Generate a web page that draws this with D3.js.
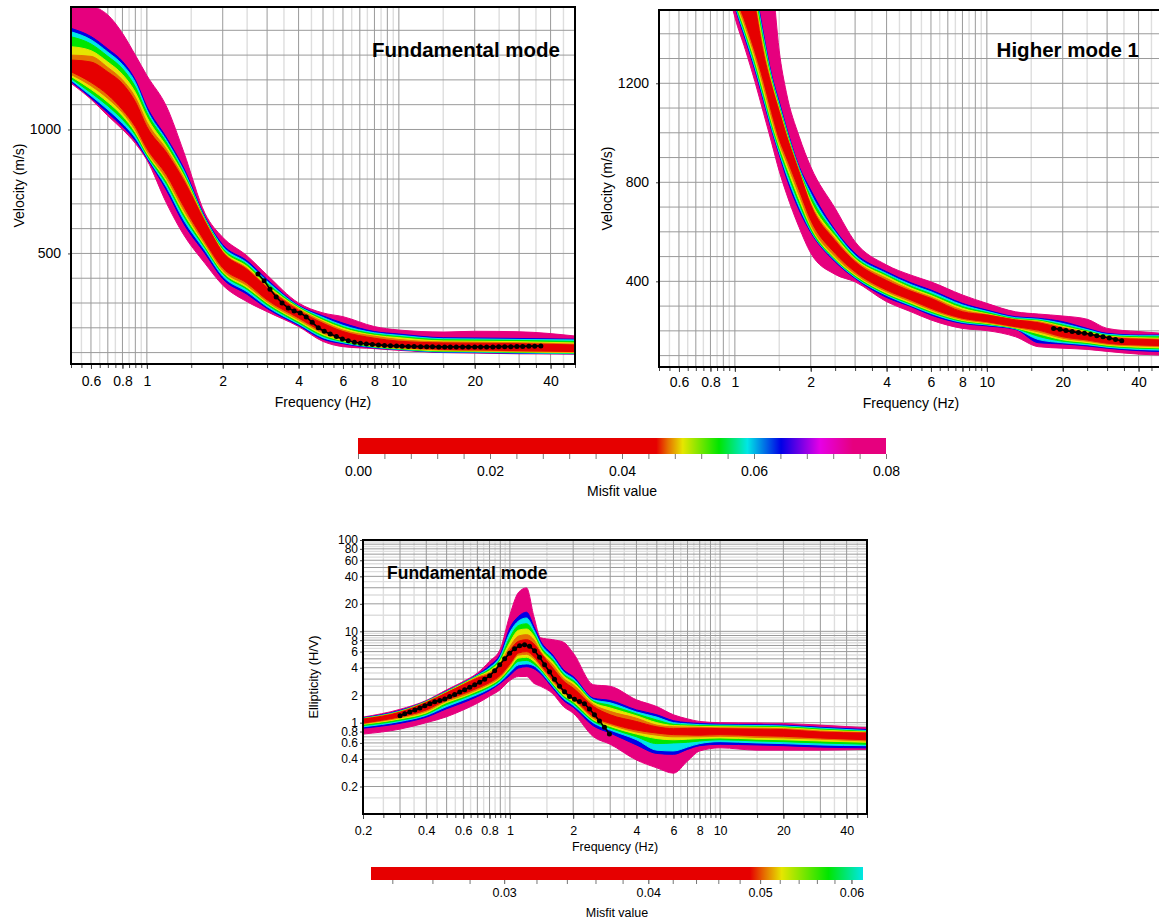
<!DOCTYPE html>
<html lang="en">
<head>
<meta charset="utf-8">
<title>Dispersion and ellipticity curves</title>
<script src="https://d3js.org/d3.v7.min.js"></script>
<style>
body{margin:0;background:#fff;overflow:hidden;}
svg text{font-family:"Liberation Sans",Arial,Helvetica,sans-serif;fill:#000;}
</style>
</head>
<body>
<svg id="chart" width="1159" height="921"></svg>
<script>

// ---- misfit colour palette (shared by the colour bars and the curve bands)
var paletteMisfit = [0, 0.0452, 0.047, 0.0492, 0.0547, 0.059, 0.0641, 0.070, 0.075, 0.08];
var paletteColors = ["#e60000", "#e60000", "#e67300", "#e6e600", "#00e600", "#00e6e6", "#0000e6", "#e600e6", "#e6007e", "#e6007e"];

// lower colour bar (log scale) only goes up to cyan
var cb2Misfit = [0.023, 0.049, 0.0505, 0.0522, 0.0573, 0.0614];
var cb2Colors = ["#e60000", "#e60000", "#e67300", "#e6e600", "#00e600", "#00e6e6"];

// one band per misfit level, worst (outer) first: pink, blue, cyan, green, yellow, orange, red
var bandMisfit = [0.078, 0.0641, 0.059, 0.0547, 0.0492, 0.047, 0.03];

// ---- top left: fundamental mode dispersion (velocity m/s)
var tlFreq = [0.5, 0.6, 0.7, 0.8, 0.9, 1.0, 1.2, 1.4, 1.7, 2, 2.5, 3, 4, 5, 6, 8, 10, 15, 20, 30, 50];
var tlUpper = [
  [1500, 1495, 1462, 1388, 1300, 1218, 1090, 910, 662, 565, 490, 413, 300, 260, 245, 205, 191, 183, 186, 184, 167],
  [1408, 1375, 1325, 1275, 1200, 1092, 965, 845, 648, 535, 470, 395, 290, 248, 219, 185, 175, 160, 159, 157, 154],
  [1394, 1362, 1312, 1262, 1190, 1080, 955, 835, 642, 528, 462, 388, 287, 242, 210, 180, 170, 156, 155, 153, 151],
  [1374, 1345, 1295, 1245, 1172, 1068, 945, 825, 638, 520, 455, 380, 284, 236, 204, 175, 165, 152, 151, 149, 145],
  [1334, 1318, 1272, 1222, 1150, 1050, 930, 815, 634, 513, 447, 372, 280, 230, 198, 170, 160, 147, 146, 144, 139],
  [1300, 1295, 1250, 1200, 1130, 1030, 918, 805, 632, 508, 440, 366, 276, 225, 191, 166, 153, 143, 142, 140, 134],
  [1280, 1272, 1232, 1185, 1112, 1011, 905, 795, 628, 505, 435, 362, 270, 218, 185, 158, 146, 139, 138, 136, 131]
];
var tlLower = [
  [1186, 1122, 1055, 1000, 944, 877, 700, 575, 460, 372, 305, 265, 205, 145, 124, 116, 109, 100, 98, 95, 94],
  [1193, 1128, 1067, 1012, 955, 884, 752, 620, 500, 398, 335, 278, 210, 154, 136, 119, 112, 101, 100, 97, 95],
  [1199, 1136, 1080, 1025, 966, 890, 765, 635, 512, 408, 345, 285, 215, 160, 140, 121, 113, 103, 102, 99, 96],
  [1206, 1148, 1095, 1040, 978, 896, 778, 650, 522, 418, 355, 293, 220, 166, 144, 123, 115, 105, 104, 101, 98],
  [1214, 1162, 1110, 1055, 988, 904, 790, 662, 530, 425, 362, 300, 226, 172, 148, 125, 117, 107, 106, 103, 100],
  [1222, 1176, 1125, 1068, 998, 912, 800, 675, 538, 432, 370, 305, 232, 178, 152, 127, 119, 110, 108, 105, 102],
  [1233, 1190, 1140, 1080, 1011, 924, 815, 690, 548, 442, 380, 313, 240, 185, 158, 130, 122, 113, 111, 108, 104]
];
var tlDotFreq = [2.76, 2.92, 3.08, 3.26, 3.44, 3.64, 3.84, 4.06, 4.29, 4.53, 4.79, 5.06, 5.34, 5.65, 5.97, 6.30,
  6.66, 7.04, 7.43, 7.85, 8.30, 8.77, 9.26, 9.79, 10.3, 10.9, 11.5, 12.2, 12.9, 13.6, 14.4, 15.2,
  16.0, 16.9, 17.9, 18.9, 20.0, 21.1, 22.3, 23.6, 24.9, 26.3, 27.8, 29.4, 31.0, 32.8, 34.6, 36.6];
var tlDotVel = [417, 390, 356, 324, 300, 280, 268, 260, 244, 222, 200, 186, 175, 165, 155, 148,
  142, 138, 135, 133, 131, 129, 128, 127, 126, 125, 125, 124, 124, 124, 123, 123,
  123, 123, 123, 123, 123, 123, 123, 123, 124, 124, 124, 125, 125, 126, 126, 127];

// ---- top right: higher mode 1 dispersion
var trFreq = [0.95, 1.0, 1.1, 1.2, 1.3, 1.4, 1.5, 1.6, 1.8, 2.0, 2.5, 3, 4, 5, 6, 8, 10, 13, 16, 20, 25, 30, 40, 50];
var trUpper = [
  [2000, 2000, 2000, 2000, 1900, 1650, 1331, 1164, 985, 863, 695, 560, 466, 425, 398, 345, 311, 277, 268, 260, 247, 210, 197, 190],
  [2000, 2000, 1815, 1598, 1398, 1233, 1125, 1023, 863, 769, 607, 513, 439, 394, 365, 311, 284, 257, 251, 237, 210, 190, 183, 183],
  [2000, 1990, 1800, 1585, 1385, 1224, 1115, 1015, 856, 755, 600, 505, 432, 387, 358, 305, 279, 253, 247, 230, 205, 186, 180, 180],
  [2000, 1980, 1785, 1570, 1370, 1215, 1106, 1008, 850, 742, 592, 498, 426, 380, 350, 298, 274, 249, 243, 224, 200, 182, 176, 176],
  [2000, 1960, 1765, 1550, 1350, 1205, 1098, 1000, 846, 725, 582, 491, 420, 373, 343, 291, 269, 246, 240, 218, 196, 179, 172, 170],
  [2000, 1940, 1748, 1532, 1334, 1196, 1091, 995, 843, 715, 572, 485, 412, 366, 337, 284, 266, 245, 237, 214, 193, 176, 169, 166],
  [2000, 1900, 1732, 1517, 1318, 1188, 1085, 990, 841, 708, 564, 479, 403, 360, 331, 277, 264, 244, 233, 210, 190, 174, 166, 163]
];
var trLower = [
  [1560, 1467, 1336, 1208, 1079, 959, 845, 756, 617, 514, 428, 398, 318, 277, 244, 210, 201, 176, 136, 130, 125, 117, 106, 102],
  [1600, 1510, 1377, 1254, 1127, 1009, 911, 820, 687, 598, 479, 412, 335, 298, 264, 230, 220, 206, 152, 147, 139, 130, 120, 116],
  [1620, 1520, 1388, 1265, 1138, 1018, 920, 834, 700, 604, 484, 416, 343, 302, 270, 234, 224, 208, 165, 152, 144, 134, 125, 122],
  [1640, 1533, 1400, 1278, 1150, 1030, 932, 850, 714, 610, 488, 420, 347, 307, 275, 238, 227, 210, 178, 158, 149, 138, 130, 127],
  [1660, 1546, 1412, 1292, 1165, 1043, 945, 866, 730, 620, 492, 425, 352, 312, 280, 242, 230, 212, 188, 164, 153, 142, 134, 131],
  [1680, 1560, 1428, 1310, 1185, 1060, 958, 884, 748, 630, 500, 430, 358, 318, 285, 246, 233, 214, 196, 170, 158, 146, 139, 136],
  [1700, 1575, 1446, 1329, 1208, 1082, 975, 902, 768, 648, 513, 439, 365, 325, 291, 251, 237, 217, 203, 176, 163, 150, 143, 140]
];
var trDotFreq = [18.4, 19.5, 20.6, 21.8, 23.1, 24.4, 25.8, 27.3, 28.9, 30.6, 32.4, 34.3];
var trDotVel = [210, 206, 201, 197, 193, 190, 186, 180, 176, 171, 165, 160];

// ---- bottom: fundamental mode ellipticity (H/V)
var elFreq = [0.2, 0.3, 0.4, 0.5, 0.6, 0.7, 0.8, 0.9, 1.0, 1.1, 1.2, 1.3, 1.4, 1.6, 1.8, 2.0, 2.5, 3, 4, 5, 6, 7, 8, 10, 15, 20, 30, 50];
var elUpper = [
  [1.15, 1.40, 1.75, 2.29, 2.82, 3.49, 4.7, 6.4, 15.2, 26.8, 29.9, 14.6, 8.5, 8.1, 7.6, 5.8, 2.6, 2.5, 1.78, 1.50, 1.22, 1.10, 1.03, 1.0, 0.99, 0.98, 0.94, 0.88],
  [1.13, 1.36, 1.72, 2.22, 2.74, 3.35, 4.2, 5.6, 10.9, 14.6, 16.2, 11.3, 7.8, 5.5, 3.8, 3.2, 1.85, 1.75, 1.38, 1.22, 1.05, 1.0, 0.98, 0.96, 0.95, 0.94, 0.89, 0.84],
  [1.12, 1.34, 1.71, 2.20, 2.72, 3.30, 4.0, 5.3, 9.7, 13.0, 14.0, 10.4, 7.3, 5.2, 3.6, 3.05, 1.78, 1.65, 1.31, 1.15, 1.0, 0.97, 0.95, 0.94, 0.93, 0.92, 0.87, 0.82],
  [1.11, 1.33, 1.70, 2.18, 2.70, 3.25, 3.85, 5.0, 8.6, 11.6, 12.1, 9.6, 6.8, 4.9, 3.4, 2.9, 1.72, 1.55, 1.25, 1.07, 0.96, 0.94, 0.93, 0.92, 0.91, 0.90, 0.85, 0.80],
  [1.105, 1.32, 1.69, 2.16, 2.67, 3.20, 3.7, 4.75, 7.6, 10.3, 10.6, 8.9, 6.4, 4.6, 3.25, 2.75, 1.66, 1.45, 1.19, 1.0, 0.93, 0.92, 0.91, 0.90, 0.89, 0.88, 0.83, 0.79],
  [1.10, 1.31, 1.68, 2.14, 2.64, 3.15, 3.55, 4.5, 6.8, 8.9, 9.2, 8.1, 6.0, 4.3, 3.05, 2.6, 1.58, 1.33, 1.12, 0.94, 0.90, 0.895, 0.89, 0.88, 0.87, 0.86, 0.81, 0.78],
  [1.095, 1.30, 1.66, 2.12, 2.60, 3.07, 3.4, 4.3, 6.2, 7.8, 8.1, 7.3, 5.8, 3.96, 2.85, 2.39, 1.50, 1.22, 1.03, 0.90, 0.86, 0.865, 0.87, 0.86, 0.85, 0.84, 0.79, 0.77]
];
var elLower = [
  [0.75, 0.85, 1.0, 1.16, 1.38, 1.63, 1.95, 2.3, 2.9, 3.2, 3.2, 2.7, 2.5, 2.07, 1.50, 1.27, 0.70, 0.58, 0.39, 0.32, 0.28, 0.38, 0.49, 0.53, 0.50, 0.50, 0.50, 0.51],
  [0.87, 0.985, 1.15, 1.42, 1.66, 1.93, 2.25, 2.7, 3.3, 3.96, 4.1, 3.9, 3.43, 2.39, 1.75, 1.48, 0.92, 0.77, 0.57, 0.46, 0.45, 0.51, 0.56, 0.58, 0.57, 0.56, 0.54, 0.53],
  [0.90, 1.03, 1.20, 1.50, 1.76, 2.03, 2.35, 2.8, 3.55, 4.3, 4.4, 4.2, 3.6, 2.5, 1.84, 1.55, 0.99, 0.83, 0.65, 0.50, 0.49, 0.54, 0.59, 0.62, 0.60, 0.59, 0.57, 0.56],
  [0.93, 1.06, 1.24, 1.58, 1.85, 2.13, 2.45, 2.92, 3.8, 4.7, 4.8, 4.4, 3.8, 2.6, 1.92, 1.62, 1.03, 0.87, 0.70, 0.59, 0.60, 0.61, 0.63, 0.65, 0.63, 0.62, 0.60, 0.58],
  [0.96, 1.10, 1.28, 1.66, 1.92, 2.22, 2.55, 3.05, 4.0, 5.1, 5.2, 4.7, 3.95, 2.7, 2.0, 1.70, 1.07, 0.91, 0.75, 0.67, 0.65, 0.66, 0.67, 0.68, 0.66, 0.65, 0.63, 0.61],
  [0.975, 1.13, 1.33, 1.72, 1.98, 2.30, 2.65, 3.15, 4.2, 5.5, 5.6, 5.0, 4.1, 2.8, 2.1, 1.78, 1.11, 0.95, 0.79, 0.73, 0.70, 0.70, 0.70, 0.71, 0.69, 0.68, 0.66, 0.63],
  [0.99, 1.16, 1.38, 1.78, 2.07, 2.39, 2.75, 3.3, 4.4, 5.8, 6.0, 5.3, 4.3, 2.95, 2.19, 1.85, 1.16, 0.985, 0.83, 0.77, 0.74, 0.735, 0.73, 0.74, 0.72, 0.71, 0.68, 0.65]
];
var elDotFreq = [0.300, 0.316, 0.334, 0.353, 0.373, 0.394, 0.416, 0.439, 0.464, 0.490, 0.517, 0.546, 0.577, 0.609,
  0.644, 0.680, 0.718, 0.758, 0.801, 0.846, 0.894, 0.944, 0.997, 1.053, 1.112, 1.174, 1.240, 1.310, 1.384,
  1.462, 1.544, 1.630, 1.722, 1.819, 1.921, 2.029, 2.143, 2.263, 2.390, 2.525, 2.667, 2.817, 2.975];
var elDotVal = [1.19, 1.25, 1.31, 1.38, 1.45, 1.53, 1.61, 1.69, 1.75, 1.82, 1.93, 2.04, 2.16, 2.29,
  2.44, 2.60, 2.77, 2.98, 3.26, 3.70, 4.31, 5.01, 5.76, 6.45, 6.96, 7.14, 6.88, 6.14, 5.21,
  4.31, 3.61, 2.98, 2.50, 2.18, 1.94, 1.80, 1.71, 1.61, 1.41, 1.22, 1.04, 0.89, 0.75];

// ---- tick labels
var topFreqLabels = [0.6, 0.8, 1, 2, 4, 6, 8, 10, 20, 40];
var tlVelLabels = [500, 1000];
var trVelLabels = [400, 800, 1200];
var elFreqLabels = [0.2, 0.4, 0.6, 0.8, 1, 2, 4, 6, 8, 10, 20, 40];
var elValLabels = [0.2, 0.4, 0.6, 0.8, 1, 2, 4, 6, 8, 10, 20, 40, 60, 80, 100];
var cb1Labels = [0, 0.02, 0.04, 0.06, 0.08];
var cb2Labels = [0.03, 0.04, 0.05, 0.06];


var svg = d3.select("#chart");
var defs = svg.append("defs");
var fontFam = '"Liberation Sans", Arial, Helvetica, sans-serif';

var misfitColor = d3.scaleLinear().domain(paletteMisfit).range(paletteColors).clamp(true);

// grid values of a log axis : d*10^k (darker) and (d+0.5)*10^k (lighter)
function logGrid(lo, hi) {
  var major = [], minor = [];
  for (var k = Math.floor(Math.log10(lo)) - 1; k <= Math.ceil(Math.log10(hi)); k++) {
    for (var d = 1; d <= 9; d++) {
      var v = d * Math.pow(10, k), h = (d + 0.5) * Math.pow(10, k);
      if (v >= lo * 0.999 && v <= hi * 1.001) major.push(v);
      if (h > lo && h < hi) minor.push(h);
    }
  }
  return {major: major, minor: minor};
}

function styleAxis(g, size) {
  g.attr("font-family", fontFam).attr("font-size", size);
  g.select(".domain").remove();
  g.selectAll(".tick line").attr("stroke", "#444");
}

function drawPanel(p) {
  var x = p.x, y = p.y;
  var xr = x.range(), yr = y.range();
  var left = xr[0], right = xr[1], bottom = yr[0], top = yr[1];

  defs.append("clipPath").attr("id", p.id)
    .append("rect").attr("x", left).attr("y", top).attr("width", right - left).attr("height", bottom - top);

  var g = svg.append("g");
  var grid = g.append("g").attr("clip-path", "url(#" + p.id + ")");

  var xg = logGrid(x.domain()[0], x.domain()[1]);
  var yMajor, yMinor;
  if (p.ylog) {
    var yg = logGrid(y.domain()[0], y.domain()[1]);
    yMajor = yg.major; yMinor = yg.minor;
  } else {
    yMajor = d3.range(100, y.domain()[1], 100);
    yMinor = [];
  }

  grid.selectAll(".xmin").data(xg.minor).enter().append("line")
    .attr("x1", d => x(d)).attr("x2", d => x(d)).attr("y1", top).attr("y2", bottom)
    .attr("stroke", "#dedede").attr("stroke-width", 1.4);
  grid.selectAll(".ymin").data(yMinor).enter().append("line")
    .attr("y1", d => y(d)).attr("y2", d => y(d)).attr("x1", left).attr("x2", right)
    .attr("stroke", "#dedede").attr("stroke-width", 1.4);
  grid.selectAll(".xmaj").data(xg.major).enter().append("line")
    .attr("x1", d => x(d)).attr("x2", d => x(d)).attr("y1", top).attr("y2", bottom)
    .attr("stroke", "#9a9a9a").attr("stroke-width", 1);
  grid.selectAll(".ymaj").data(yMajor).enter().append("line")
    .attr("y1", d => y(d)).attr("y2", d => y(d)).attr("x1", left).attr("x2", right)
    .attr("stroke", "#9a9a9a").attr("stroke-width", 1);

  // curve bands, worst misfit first so the best ones end on top
  var plot = g.append("g").attr("clip-path", "url(#" + p.id + ")");
  var area = d3.area()
    .x(d => x(d.f)).y0(d => y(d.lo)).y1(d => y(d.up))
    .curve(d3.curveMonotoneX);
  bandMisfit.forEach(function(m, i) {
    var rows = p.freq.map(function(f, j) { return {f: f, lo: p.lower[i][j], up: p.upper[i][j]}; });
    var col = misfitColor(m);
    plot.append("path").datum(rows)
      .attr("fill", col).attr("stroke", col).attr("stroke-width", 1)
      .attr("d", area);
  });

  // measured data
  var dots = p.dotF.map(function(f, i) { return {f: f, v: p.dotV[i]}; });
  plot.append("path").datum(dots)
    .attr("fill", "none").attr("stroke", "#000").attr("stroke-width", 1.6)
    .attr("d", d3.line().x(d => x(d.f)).y(d => y(d.v)));
  plot.selectAll(".dot").data(dots).enter().append("circle")
    .attr("cx", d => x(d.f)).attr("cy", d => y(d.v)).attr("r", 2.5).attr("fill", "#000");

  // axes
  var xt = g.append("g").attr("transform", "translate(0," + bottom + ")")
    .call(d3.axisBottom(x).tickValues(xg.major.concat(xg.minor)).tickSize(4).tickFormat(""));
  styleAxis(xt, p.fs);
  var xa = g.append("g").attr("transform", "translate(0," + bottom + ")")
    .call(d3.axisBottom(x).tickValues(p.xLabels).tickSize(5).tickPadding(p.xPad).tickFormat(d3.format("~g")));
  styleAxis(xa, p.fs);
  var ya = g.append("g").attr("transform", "translate(" + left + ",0)")
    .call(d3.axisLeft(y).tickValues(p.yLabels).tickSize(3).tickPadding(p.yPad).tickFormat(d3.format("~g")));
  styleAxis(ya, p.yfs || p.fs);

  g.append("text").attr("x", (left + right) / 2).attr("y", p.xTitleY)
    .attr("text-anchor", "middle").attr("font-size", p.fs).text("Frequency (Hz)");
  g.append("text").attr("transform", "translate(" + p.yTitleX + "," + (top + bottom) / 2 + ") rotate(-90)")
    .attr("text-anchor", "middle").attr("font-size", p.yTitleFs).text(p.yTitle);

  g.append("text").attr("x", p.title.x).attr("y", p.title.y)
    .attr("text-anchor", p.title.anchor).attr("font-size", p.title.size)
    .attr("font-weight", "bold").text(p.title.text);

  g.append("rect").attr("x", left).attr("y", top).attr("width", right - left).attr("height", bottom - top)
    .attr("fill", "none").attr("stroke", "#000").attr("stroke-width", 2);
}

drawPanel({
  id: "clipTL",
  x: d3.scaleLog().domain([0.5, 50]).range([71, 575]),
  y: d3.scaleLinear().domain([54, 1494]).range([364, 7]),
  ylog: false,
  freq: tlFreq, upper: tlUpper, lower: tlLower, dotF: tlDotFreq, dotV: tlDotVel,
  xLabels: topFreqLabels, yLabels: tlVelLabels, fs: 14, xPad: 7, yPad: 7,
  xTitleY: 407, yTitleX: 24, yTitle: "Velocity (m/s)", yTitleFs: 14,
  title: {text: "Fundamental mode", x: 560, y: 57, anchor: "end", size: 20.5}
});

drawPanel({
  id: "clipTR",
  x: d3.scaleLog().domain([0.5, 50]).range([659, 1163]),
  y: d3.scaleLinear().domain([54, 1496]).range([367, 10]),
  ylog: false,
  freq: trFreq, upper: trUpper, lower: trLower, dotF: trDotFreq, dotV: trDotVel,
  xLabels: topFreqLabels, yLabels: trVelLabels, fs: 14, xPad: 5, yPad: 7,
  xTitleY: 408, yTitleX: 612, yTitle: "Velocity (m/s)", yTitleFs: 14,
  title: {text: "Higher mode 1", x: 1139, y: 57, anchor: "end", size: 20.5}
});

drawPanel({
  id: "clipEL",
  x: d3.scaleLog().domain([0.2, 50]).range([363, 867]),
  y: d3.scaleLog().domain([0.1, 100]).range([814, 540]),
  ylog: true,
  freq: elFreq, upper: elUpper, lower: elLower, dotF: elDotFreq, dotV: elDotVal,
  xLabels: elFreqLabels, yLabels: elValLabels, fs: 12.5, yfs: 12, xPad: 7, yPad: 2,
  xTitleY: 851, yTitleX: 318, yTitle: "Ellipticity (H/V)", yTitleFs: 12.8,
  title: {text: "Fundamental mode", x: 387, y: 579, anchor: "start", size: 17.5}
});

// ---- colour bars
function colorBar(id, scale, stops, colors, y0, h, allTicks, labels, fmt, fs, tick, pad, titleY) {
  var r = scale.range();
  var lg = defs.append("linearGradient").attr("id", id)
    .attr("x1", 0).attr("x2", 1).attr("y1", 0).attr("y2", 0);
  stops.forEach(function(s, i) {
    lg.append("stop").attr("offset", (scale(s) - r[0]) / (r[1] - r[0])).attr("stop-color", colors[i]);
  });
  svg.append("rect").attr("x", r[0]).attr("y", y0).attr("width", r[1] - r[0]).attr("height", h)
    .attr("fill", "url(#" + id + ")");
  var t = svg.append("g").attr("transform", "translate(0," + (y0 + h) + ")")
    .call(d3.axisBottom(scale).tickValues(allTicks).tickSize(tick).tickFormat(""));
  styleAxis(t, fs);
  t.selectAll(".tick line").attr("stroke", "#777");
  var a = svg.append("g").attr("transform", "translate(0," + (y0 + h) + ")")
    .call(d3.axisBottom(scale).tickValues(labels).tickSize(tick).tickPadding(pad).tickFormat(d3.format(fmt)));
  styleAxis(a, fs);
  a.selectAll(".tick line").attr("stroke", "#777");
  svg.append("text").attr("x", (r[0] + r[1]) / 2).attr("y", titleY)
    .attr("text-anchor", "middle").attr("font-size", fs).text("Misfit value");
}

var cb1 = d3.scaleLinear().domain([0, 0.08]).range([358, 886]);
colorBar("grad1", cb1, paletteMisfit, paletteColors, 438, 16,
  d3.range(0, 0.0801, 0.004), cb1Labels, ".2f", 14, 5, 7, 496);

var cb2 = d3.scaleLog().domain([0.023, 0.0614]).range([371, 863]);
colorBar("grad2", cb2, cb2Misfit, cb2Colors, 867, 13,
  d3.range(0.024, 0.0601, 0.002), cb2Labels, ".2f", 12.5, 4, 4, 917);

</script>
</body>
</html>
